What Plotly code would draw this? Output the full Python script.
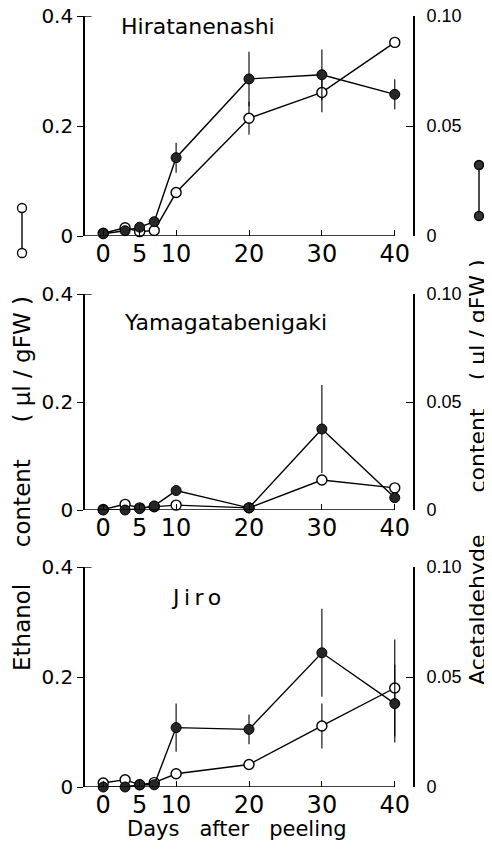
import plotly.graph_objects as go

# ---------------- data ----------------
days = [0, 3, 5, 7, 10, 20, 30, 40]
x_ticks = [0, 5, 10, 20, 30, 40]
left_ticks = [0, 0.2, 0.4]
left_ticktext = ["0", "0.2", "0.4"]
right_ticks = [0, 0.05, 0.10]
right_ticktext = ["0", "0.05", "0.10"]

cultivars = ["Hiratanenashi", "Yamagatabenigaki", "J\u2009i\u2009r\u2009o"]

eth_hira = [0.005, 0.015, 0.008, 0.010, 0.079, 0.214, 0.261, 0.352]
eth_hira_err = [0, 0, 0, 0, 0, 0.030, 0.036, 0]
acet_hira = [0.001, 0.0024, 0.004, 0.0065, 0.0356, 0.0714, 0.0733, 0.0644]
acet_hira_err = [0, 0, 0, 0, 0.0068, 0.0124, 0.0115, 0.0068]

eth_yama = [0.001, 0.0105, 0.004, 0.006, 0.009, 0.004, 0.0556, 0.041]
eth_yama_err = [0, 0, 0, 0, 0, 0, 0, 0]
acet_yama = [0.0, 0.0, 0.0006, 0.0019, 0.009, 0.001, 0.0375, 0.0057]
acet_yama_err = [0, 0, 0, 0, 0, 0, 0.0204, 0]

eth_jiro = [0.0073, 0.0133, 0.004, 0.008, 0.024, 0.041, 0.111, 0.180]
eth_jiro_err = [0, 0, 0, 0, 0, 0, 0.041, 0.088]
acet_jiro = [0.0, 0.0, 0.001, 0.001, 0.027, 0.0262, 0.061, 0.0379]
acet_jiro_err = [0, 0, 0, 0, 0.011, 0.0068, 0.020, 0.0177]

ethanol = [eth_hira, eth_yama, eth_jiro]
ethanol_err = [eth_hira_err, eth_yama_err, eth_jiro_err]
acet = [acet_hira, acet_yama, acet_jiro]
acet_err = [acet_hira_err, acet_yama_err, acet_jiro_err]

# ---------------- layout geometry ----------------
# the page body has an 8px margin, so the figure is offset by (8, 8)
OX, OY = 8, 8
W, H = 492 - OX, 850 - OY


def px(x):
    return (x - OX) / W


def py(y):
    return 1 - (y - OY) / H


x_range = [-2.5, 42.5]
x_line_end = 40
x_dom = [px(85), px(413)]
panel_px = [(16, 236), (294, 510), (567, 787)]  # top, bottom pixel of each panel
title_pos = [(119, 27), (122, 322), (169, 597)]

FONT = "DejaVu Sans"
NARROW = "Liberation Sans Narrow, Liberation Sans, Arial, sans-serif"
BLACK = "black"

fig = go.Figure()
layout = dict(
    template="none",
    width=W, height=H,
    margin=dict(l=0, r=0, t=0, b=0, pad=0, autoexpand=False),
    paper_bgcolor="white", plot_bgcolor="rgba(0,0,0,0)",
    showlegend=False,
    font=dict(family=FONT, color=BLACK),
)
shapes = []
annotations = []

for i in range(3):
    xa = "x" if i == 0 else f"x{i+1}"
    yl_idx = 2 * i + 1
    yr_idx = 2 * i + 2
    yl = "y" if yl_idx == 1 else f"y{yl_idx}"
    yr = f"y{yr_idx}"
    top, bot = panel_px[i]
    dom = [py(bot), py(top)]

    fig.add_trace(go.Scatter(
        x=days, y=acet[i], xaxis=xa, yaxis=yr, mode="lines+markers",
        cliponaxis=False,
        line=dict(color=BLACK, width=1.4),
        marker=dict(symbol="circle", size=10, color="#262626",
                    line=dict(color=BLACK, width=1)),
        error_y=dict(type="data", array=acet_err[i], visible=True,
                     thickness=1.1, width=0, color=BLACK),
    ))
    fig.add_trace(go.Scatter(
        x=days, y=ethanol[i], xaxis=xa, yaxis=yl, mode="lines+markers",
        cliponaxis=False,
        line=dict(color=BLACK, width=1.4),
        marker=dict(symbol="circle", size=10, color="white",
                    line=dict(color=BLACK, width=1.4)),
        error_y=dict(type="data", array=ethanol_err[i], visible=True,
                     thickness=1.1, width=0, color=BLACK),
    ))

    xkey = "xaxis" if i == 0 else f"xaxis{i+1}"
    ylkey = "yaxis" if yl_idx == 1 else f"yaxis{yl_idx}"
    yrkey = f"yaxis{yr_idx}"
    layout[xkey] = dict(
        domain=x_dom, range=x_range, anchor=yl, automargin=False,
        tickvals=x_ticks, ticktext=[str(v) for v in x_ticks],
        ticks="inside", ticklen=6, tickwidth=1.4, tickcolor=BLACK,
        showline=False, showgrid=False, zeroline=False,
        tickfont=dict(family=FONT, size=24, color=BLACK),
        ticklabelstandoff=1, ticklabeloverflow="allow",
    )
    layout[ylkey] = dict(
        domain=dom, range=[0, 0.4], anchor=xa, automargin=False,
        tickvals=left_ticks, ticktext=left_ticktext,
        ticks="outside", ticklen=6, tickwidth=1.4, tickcolor=BLACK,
        showline=True, linecolor=BLACK, linewidth=1.6,
        showgrid=False, zeroline=False,
        tickfont=dict(family=FONT, size=20, color=BLACK),
        ticklabeloverflow="allow",
    )
    layout[yrkey] = dict(
        overlaying=yl, side="right", range=[0, 0.10], anchor=xa, automargin=False,
        tickvals=right_ticks, ticktext=right_ticktext,
        ticks="inside", ticklen=7, tickwidth=1.4, tickcolor=BLACK,
        showline=True, linecolor=BLACK, linewidth=1.6,
        showgrid=False, zeroline=False,
        tickfont=dict(family=NARROW, size=18, color=BLACK),
        ticklabelstandoff=8, ticklabeloverflow="allow",
    )
    # x-axis baseline (ends at day 40, short of the right axis)
    shapes.append(dict(type="line", xref=xa, yref=yl,
                       x0=x_range[0], x1=x_line_end, y0=0, y1=0,
                       line=dict(color=BLACK, width=1.6)))
    # small inward bracket at the top of the left axis
    shapes.append(dict(type="line", xref=f"{xa} domain", yref=yl,
                       x0=0, x1=0.02, y0=0.4, y1=0.4,
                       line=dict(color=BLACK, width=1.4)))
    # cultivar title
    tx, ty = title_pos[i]
    annotations.append(dict(text=cultivars[i], xref="paper", yref="paper",
                            x=px(tx), y=py(ty), xanchor="left", yanchor="middle",
                            showarrow=False, font=dict(family=FONT, size=22, color=BLACK)))

# axis titles
sp = "\u00a0"
annotations.append(dict(
    text=f"Ethanol{sp*5}content{sp*5}({sp}µl{sp}/{sp}gFW{sp})",
    xref="paper", yref="paper", x=px(22), y=py(484), textangle=-90,
    xanchor="center", yanchor="middle", showarrow=False,
    font=dict(family=FONT, size=23, color=BLACK)))
annotations.append(dict(
    text=f"Acetaldehyde{sp*6}content{sp*4}({sp}µl{sp}/{sp}gFW{sp})",
    xref="paper", yref="paper", x=px(478), y=py(472), textangle=-90,
    xanchor="center", yanchor="middle", showarrow=False,
    font=dict(family=FONT, size=22, color=BLACK)))
annotations.append(dict(
    text=f"Days{sp*3}after{sp*3}peeling",
    xref="paper", yref="paper", x=px(237), y=py(829),
    xanchor="center", yanchor="middle", showarrow=False,
    font=dict(family=FONT, size=21, color=BLACK)))


# symbol keys beside the axis titles
def key(xk, y_top, y_bot, fill):
    r = 4.5
    out = [dict(type="line", xref="paper", yref="paper",
                x0=px(xk), x1=px(xk), y0=py(y_top + r), y1=py(y_bot - r),
                line=dict(color=BLACK, width=1.4))]
    for yy in (y_top, y_bot):
        out.append(dict(type="circle", xref="paper", yref="paper",
                        xsizemode="pixel", ysizemode="pixel",
                        xanchor=px(xk), yanchor=py(yy),
                        x0=-r, x1=r, y0=-r, y1=r,
                        fillcolor=fill, line=dict(color=BLACK, width=1.3)))
    return out


shapes += key(22, 208, 253, "white")
shapes += key(479, 165, 216, "#333333")

layout["shapes"] = shapes
layout["annotations"] = annotations
fig.update_layout(**layout)
fig.write_html("out.html")
